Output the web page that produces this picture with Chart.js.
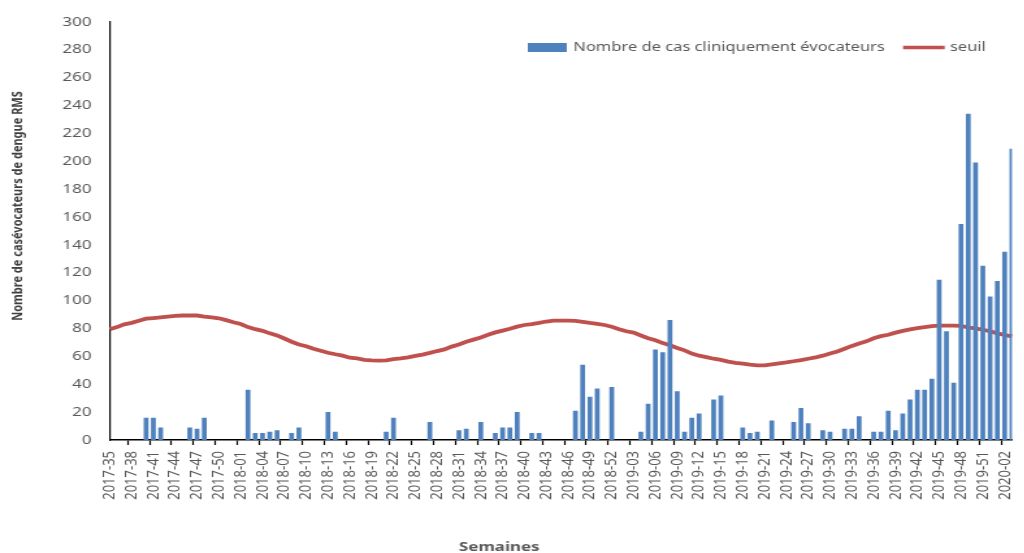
<!DOCTYPE html>
<html>
<head>
<meta charset="utf-8">
<script src="https://cdn.jsdelivr.net/npm/chart.js@4"></script>
<style>
    html, body { margin: 0; padding: 0; background: #fff; overflow: hidden; }
    #wrap { width: 1040px; height: 553px; }
</style>
</head>
<body>
<div id="wrap"><canvas id="chart" width="800" height="553" style="width:1040px;height:553px"></canvas></div>
<script>
// Dengue RMS — weekly counts + seuil (threshold)
// the original picture is stretched sideways, so the canvas is too (800 -> 1040 px)

const START_YEAR = 2017;
const START_WEEK = 35;
const WEEKS_IN_YEAR = { 2017: 52, 2018: 52, 2019: 52, 2020: 53 };
const N_WEEKS = 125;

// Nombre de cas cliniquement évocateurs, one value per week
const cases = [
    0, 0, 0, 0, 0, 16, 16, 9, 0, 0,
    0, 9, 8, 16, 0, 0, 0, 0, 0, 36,
    5, 5, 6, 7, 0, 5, 9, 0, 0, 0,
    20, 6, 0, 0, 0, 0, 0, 0, 6, 16,
    0, 0, 0, 0, 13, 0, 0, 0, 7, 8,
    0, 13, 0, 5, 9, 9, 20, 0, 5, 5,
    0, 0, 0, 0, 21, 54, 31, 37, 0, 38,
    0, 0, 0, 6, 26, 65, 63, 86, 35, 6,
    16, 19, 0, 29, 32, 0, 0, 9, 5, 6,
    0, 14, 0, 0, 13, 23, 12, 0, 7, 6,
    0, 8, 8, 17, 0, 6, 6, 21, 7, 19,
    29, 36, 36, 44, 115, 78, 41, 155, 234, 199,
    125, 103, 114, 135, 209,
];

// seuil
const threshold = [
    79.5, 81, 83, 84, 85.5, 87, 87.5, 88, 88.5, 89,
    89.3, 89.3, 89.3, 88.5, 88, 87.3, 86, 84.5, 83.2, 81,
    79.5, 78.3, 76.5, 75, 72.8, 70.5, 68.5, 67.3, 65.5, 64,
    62.6, 61.5, 60.5, 59, 58.5, 57.5, 57.1, 57, 57.1, 58,
    58.5, 59.3, 60.3, 61.3, 62.5, 63.8, 65, 67, 68.5, 70.5,
    72, 73.5, 75.5, 77.2, 78.5, 79.8, 81.3, 82.5, 83.2, 84,
    85, 85.7, 85.7, 85.7, 85.5, 84.8, 84, 83.3, 82.5, 81.3,
    79.5, 78, 77, 75, 73, 71.5, 69.5, 68, 66, 64.3,
    62, 60.5, 59.5, 58.3, 57.5, 56.2, 55.3, 54.8, 54, 53.5,
    53.6, 54.3, 55, 55.7, 56.5, 57.3, 58.3, 59.2, 60.5, 62,
    63.5, 65.5, 67.5, 69.3, 70.8, 73, 74.5, 75.5, 77, 78.3,
    79.3, 80.3, 81, 81.7, 82, 82, 82, 81.8, 80.7, 80,
    79.1, 78, 76.5, 75.3, 74.3,
];

const Y_TICKS = [0, 20, 40, 60, 80, 100, 120, 140, 160, 180, 200, 220, 240, 260, 280, 300];
const LABEL_EVERY = 3;

const COLORS = {
    bar: '#4f81bd',
    line: '#c0504d',
    text: '#595959',
    title: '#404040',
    axis: '#000000',
};

function buildWeeks() {
    const out = [];
    let y = START_YEAR, w = START_WEEK;
    for (let i = 0; i < N_WEEKS; i++) {
        out.push(`${y}-${String(w).padStart(2, '0')}`);
        w++;
        if (w > WEEKS_IN_YEAR[y]) { y++; w = 1; }
    }
    return out;
}
const weeks = buildWeeks();

// ── legend + axis titles, drawn on the canvas ─────────────────────────

const overlay = {
    id: 'overlay',
    afterDraw(chart) {
        const ctx = chart.ctx;
        const ds = chart.data.datasets;
        ctx.save();
        ctx.font = '12.7px "Noto Sans"';
        ctx.textBaseline = 'middle';
        ctx.textAlign = 'left';

        // legend
        let x = 406;
        const ly = 47.5;
        ctx.fillStyle = ds[0].backgroundColor;
        ctx.fillRect(x, ly - 4.5, 30, 9);
        x += 35;
        ctx.fillStyle = COLORS.text;
        ctx.fillText(ds[0].label, x, ly);
        x += ctx.measureText(ds[0].label).width + 14;
        ctx.strokeStyle = ds[1].borderColor;
        ctx.lineWidth = 3.5;
        ctx.beginPath();
        ctx.moveTo(x, ly);
        ctx.lineTo(x + 32, ly);
        ctx.stroke();
        x += 36;
        ctx.fillText(ds[1].label, x, ly);

        // x title
        ctx.font = 'bold 13px "Noto Sans"';
        ctx.textAlign = 'center';
        ctx.fillStyle = COLORS.text;
        ctx.fillText('Semaines', 384, 547);

        // y title
        ctx.translate(13.8, 206);
        ctx.rotate(-Math.PI / 2);
        ctx.font = 'bold 11px "Noto Sans"';
        ctx.fillStyle = COLORS.title;
        ctx.fillText('Nombre de casévocateurs de dengue RMS', 0, 0);
        ctx.restore();
    }
};

// ── Chart ─────────────────────────────────────────────────────────────

const chart = new Chart(document.getElementById('chart'), {
    type: 'bar',
    data: {
        labels: weeks,
        datasets: [
            {
                type: 'bar',
                label: 'Nombre de cas cliniquement évocateurs',
                data: cases,
                backgroundColor: COLORS.bar,
                categoryPercentage: 1,
                barPercentage: 0.66,
            },
            {
                type: 'line',
                label: 'seuil',
                data: threshold,
                borderColor: COLORS.line,
                borderWidth: 3.8,
                pointRadius: 0,
                tension: 0,
                fill: false,
            }
        ]
    },
    options: {
        responsive: false,
        animation: false,
        devicePixelRatio: 1,
        layout: {
            autoPadding: false,
            padding: { left: 0, right: 10, top: 19, bottom: 0 },
        },
        plugins: {
            legend: { display: false },
            tooltip: { enabled: false },
        },
        scales: {
            x: {
                offset: false,
                afterFit: (s) => { s.height = 113; },
                border: { display: true, color: COLORS.axis, width: 1.5 },
                grid: {
                    display: true,
                    drawOnChartArea: false,
                    drawTicks: true,
                    tickLength: 5,
                    tickWidth: 1.2,
                    tickColor: (c) => (c.index % LABEL_EVERY === 0 ? COLORS.axis : 'rgba(0,0,0,0)'),
                },
                ticks: {
                    autoSkip: false,
                    maxRotation: 90,
                    minRotation: 90,
                    padding: 6,
                    color: COLORS.text,
                    font: { family: 'Noto Sans', size: 13 },
                    callback: (v, i) => (i % LABEL_EVERY === 0 ? weeks[i] : ''),
                },
            },
            y: {
                min: Y_TICKS[0],
                max: Y_TICKS[Y_TICKS.length - 1],
                afterFit: (s) => { s.width = 84.4; },
                afterBuildTicks: (s) => { s.ticks = Y_TICKS.map(v => ({ value: v })); },
                border: { display: true, color: COLORS.axis, width: 1.2 },
                grid: { display: false, drawTicks: false },
                ticks: {
                    padding: 14,
                    color: COLORS.text,
                    font: { family: 'Noto Sans', size: 13 },
                },
            }
        }
    },
    plugins: [overlay],
});
</script>
</body>
</html>
